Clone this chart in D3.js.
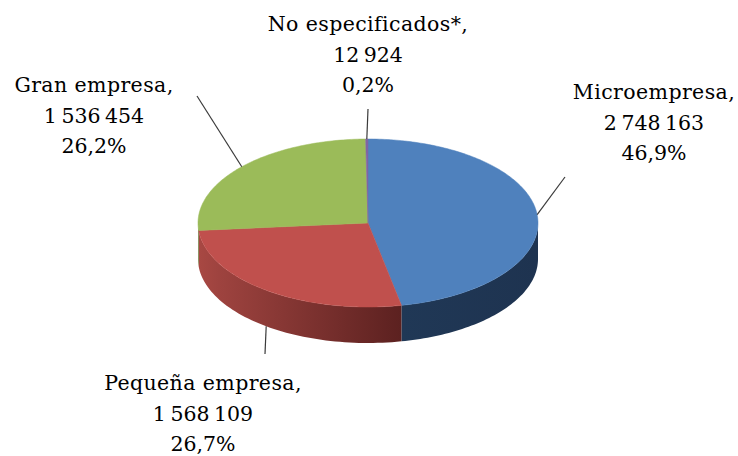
<!DOCTYPE html>
<html>
<head>
<meta charset="utf-8">
<script src="https://cdn.jsdelivr.net/npm/d3@7/dist/d3.min.js"></script>
<style>
  html, body { margin: 0; padding: 0; background: #fff; }
  svg { display: block; }
  text { font-family: "DejaVu Serif", "Liberation Serif", serif; font-size: 20.5px; fill: #000; }
  .name { letter-spacing: 0.4px; }
  .num { word-spacing: -2px; }
</style>
</head>
<body>
<svg id="chart" width="738" height="456"></svg>
<script>
// ---- data ----
const categories = ["Microempresa", "Pequeña empresa", "Gran empresa", "No especificados*"];
const values = [2748163, 1568109, 1536454, 12924];
const valueLabels = ["2 748 163", "1 568 109", "1 536 454", "12 924"];
const percentLabels = ["46,9%", "26,7%", "26,2%", "0,2%"];
const colors = ["#4F81BD", "#C0504D", "#9BBB59", "#8064A2"];

// ---- layout ----
const cx = 368, cy = 223, rx = 170, ry = 84, depth = 36;
const svg = d3.select("#chart");

const pie = d3.pie().sort(null).value(d => d)(values);
const pt = (a, dy = 0) => [cx + rx * Math.sin(a), cy - ry * Math.cos(a) + dy];

const defs = svg.append("defs");
const sideColors = {
  0: [["0%", "#203856"], ["100%", "#1E3350"]],
  1: [["0%", "#A84843"], ["10%", "#9E433F"], ["100%", "#5C2120"]],
  2: [["0%", "#7A9444"], ["100%", "#5E7233"]],
  3: [["0%", "#5F4A7A"], ["100%", "#4A3A60"]]
};
pie.forEach((s, i) => {
  const a0 = Math.max(s.startAngle, Math.PI / 2), a1 = Math.min(s.endAngle, 3 * Math.PI / 2);
  if (a1 <= a0) return;
  const pL = pt(a1), pR = pt(a0);
  const g = defs.append("linearGradient").attr("id", "side" + i)
    .attr("gradientUnits", "userSpaceOnUse")
    .attr("x1", Math.min(pL[0], pR[0])).attr("y1", 0)
    .attr("x2", Math.max(pL[0], pR[0])).attr("y2", 0);
  sideColors[i].forEach(st => g.append("stop").attr("offset", st[0]).attr("stop-color", st[1]));
});

// side faces (front half only)
const sides = svg.append("g");
pie.forEach((s, i) => {
  const a0 = Math.max(s.startAngle, Math.PI / 2), a1 = Math.min(s.endAngle, 3 * Math.PI / 2);
  if (a1 <= a0) return;
  const n = 60, top = [], bot = [];
  for (let k = 0; k <= n; k++) {
    const a = a0 + (a1 - a0) * k / n;
    top.push(pt(a));
    bot.push(pt(a, depth));
  }
  sides.append("path")
    .attr("d", d3.line()(top.concat(bot.reverse())) + "Z")
    .attr("fill", `url(#side${i})`);
});

// top faces
const tops = svg.append("g");
pie.forEach((s, i) => {
  const n = Math.max(4, Math.ceil((s.endAngle - s.startAngle) * 60));
  const pts = [[cx, cy]];
  for (let k = 0; k <= n; k++) pts.push(pt(s.startAngle + (s.endAngle - s.startAngle) * k / n));
  tops.append("path")
    .attr("d", d3.line()(pts) + "Z")
    .attr("fill", colors[i])
    .attr("stroke", colors[i]).attr("stroke-width", 0.5);
});

// labels: centre x, first baseline, leader outer point
const labelPos = [
  { x: 654, y: 99, lx: 565, ly: 177 },
  { x: 203, y: 390, lx: 265, ly: 354 },
  { x: 94, y: 92, lx: 197, ly: 96 },
  { x: 368, y: 31, lx: 368, ly: 109 }
];
const lines = svg.append("g");
const labels = svg.append("g");
pie.forEach((s, i) => {
  const mid = (s.startAngle + s.endAngle) / 2;
  const front = Math.cos(mid) < -0.3;
  const anchor = pt(mid, front ? depth : 0);
  const L = labelPos[i];
  lines.append("line")
    .attr("x1", anchor[0]).attr("y1", anchor[1])
    .attr("x2", L.lx).attr("y2", L.ly)
    .attr("stroke", "#3a3a3a").attr("stroke-width", 1.2);
  const t = labels.append("text").attr("text-anchor", "middle");
  [[categories[i] + ",", "name"], [valueLabels[i], "num"], [percentLabels[i], "num"]].forEach(([str, cls], k) => {
    t.append("tspan").attr("class", cls).attr("x", L.x).attr("y", L.y + k * 30.5).text(str);
  });
});
</script>
</body>
</html>
